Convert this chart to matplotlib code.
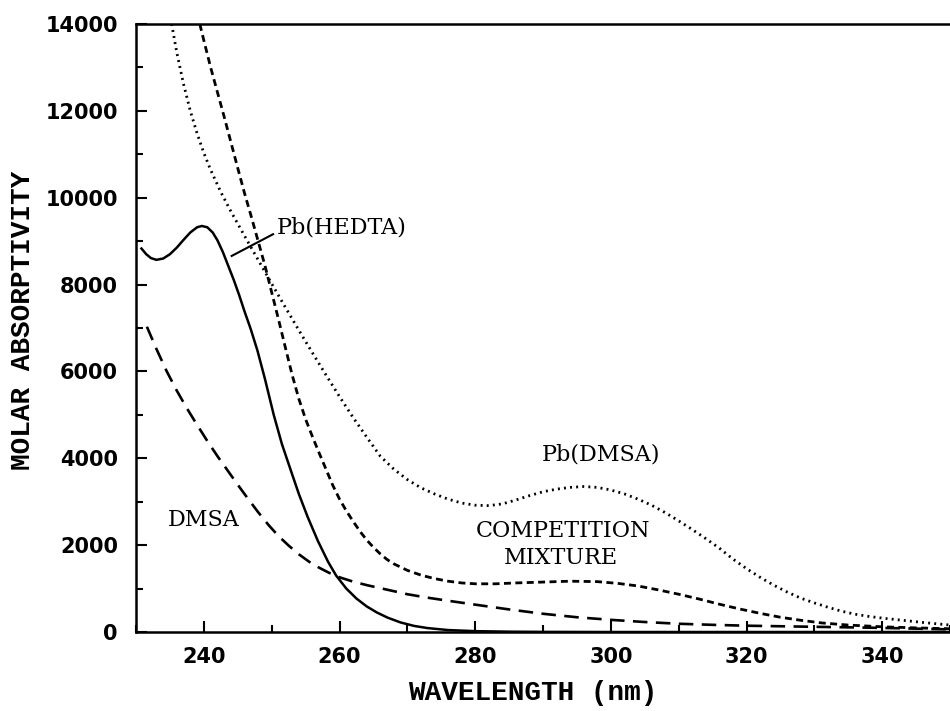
import matplotlib
matplotlib.use("Agg")
import matplotlib.pyplot as plt

# Pb(HEDTA) - solid
hedta_nm = [230.8, 231.5, 232.2, 233.0, 234.0, 235.0, 236.0, 237.0, 238.0, 239.0,
            239.7, 240.5, 241.3, 242.0, 242.8, 243.6, 244.4, 245.2, 246.0, 246.9,
            247.9, 249.0, 250.3, 251.5, 252.8, 254.0, 255.3, 256.8, 258.3, 259.5,
            261.0, 262.5, 264.0, 265.5, 267.1, 269.0, 271.0, 273.0, 276.0, 280.0,
            285.0, 290.0, 300.0, 350.0]
hedta_abs = [8830, 8700, 8610, 8570, 8600, 8700, 8850, 9030, 9200, 9320,
             9350, 9320, 9200, 9020, 8750, 8430, 8110, 7760, 7380, 6980,
             6480, 5830, 5000, 4330, 3730, 3180, 2650, 2100, 1620, 1300,
             1000, 770, 590, 450, 330, 220, 140, 90, 45, 20,
             8, 3, 0, 0]

# Pb(DMSA) - dotted
pbdmsa_nm = [235.25, 236, 237, 238, 239, 240, 241, 242.5, 244, 246,
             248, 250, 252, 254, 256, 258, 260, 262, 264, 266,
             268, 270, 272, 274, 276, 278, 280, 282, 284, 286,
             288, 290, 292, 294, 296, 298, 300, 302, 304, 306,
             308, 310, 312, 314, 316, 318, 320, 322, 324, 326,
             328, 330, 332, 334, 336, 338, 340, 343, 346, 350]
pbdmsa_abs = [14000, 13350, 12620, 12000, 11480, 11030, 10640, 10130, 9680, 9120,
              8570, 8020, 7480, 6950, 6430, 5920, 5420, 4940, 4490, 4050,
              3750, 3510, 3320, 3180, 3060, 2970, 2920, 2910, 2950, 3040,
              3140, 3230, 3290, 3330, 3350, 3330, 3270, 3180, 3060, 2920,
              2750, 2560, 2360, 2150, 1930, 1680, 1460, 1260, 1080, 920,
              780, 670, 570, 480, 410, 360, 320, 270, 220, 160]

# competition mixture - short dashes
mix_nm = [239.4, 240, 241, 242, 243, 244, 245, 246, 247, 248,
          249, 250, 251, 252, 253, 254, 255, 256, 257, 258,
          259, 260, 261, 262, 263, 264, 265, 266, 267, 268,
          270, 272, 274, 276, 278, 280, 283, 286, 290, 294,
          298, 301, 304, 307, 310, 313, 316, 319, 322, 325,
          328, 331, 335, 340, 345, 350]
mix_abs = [14000, 13620, 13000, 12430, 11860, 11270, 10680, 10100, 9560, 9000,
           8440, 7820, 7200, 6560, 5930, 5370, 4900, 4500, 4120, 3750,
           3380, 3060, 2790, 2550, 2320, 2120, 1950, 1800, 1670, 1570,
           1420, 1310, 1230, 1170, 1130, 1110, 1110, 1130, 1150, 1170,
           1160, 1120, 1060, 970, 870, 760, 640, 530, 430, 340,
           270, 210, 160, 120, 95, 75]

# DMSA - long dashes
dmsa_nm = [231.6, 233, 234.5, 236, 237.5, 239, 240.5, 242, 243.5, 245,
           246.5, 248, 249.5, 251, 252.5, 254, 255.5, 257, 258.5, 260,
           262, 264, 266, 268, 270, 273, 276, 280, 285, 290,
           295, 300, 305, 310, 315, 320, 330, 340, 350]
dmsa_abs = [7030, 6520, 6010, 5560, 5150, 4770, 4400, 4050, 3720, 3390,
            3070, 2760, 2470, 2210, 1990, 1790, 1620, 1480, 1360, 1260,
            1160, 1080, 1010, 940, 870, 790, 720, 630, 520, 420,
            340, 280, 230, 190, 165, 145, 120, 95, 60]

xticks = [240, 260, 280, 300, 320, 340]
yticks = [0, 2000, 4000, 6000, 8000, 10000, 12000, 14000]

serif = "DejaVu Serif"
mono = "Liberation Mono"

fig = plt.figure(figsize=(9.5, 7.11), dpi=100)
ax = fig.add_axes([0.1432, 0.1111, 0.8568, 0.8551])

ax.plot(hedta_nm, hedta_abs, color="black", lw=1.8, solid_joinstyle="round")
ax.plot(pbdmsa_nm, pbdmsa_abs, color="black", lw=2.0, linestyle=(0, (0.7, 1.5)))
ax.plot(mix_nm, mix_abs, color="black", lw=2.0, linestyle=(0, (2.5, 1.6)))
ax.plot(dmsa_nm, dmsa_abs, color="black", lw=1.9, linestyle=(0, (5.5, 3.2)))

ax.set_xlim(230, 350)
ax.set_ylim(0, 14000)
ax.set_xticks(xticks)
ax.set_xticks(range(230, 351, 10), minor=True)
ax.set_yticks(yticks)
ax.set_yticks(range(0, 14001, 1000), minor=True)
ax.tick_params(which="both", direction="in", width=1.5)
ax.tick_params(which="major", length=8)
ax.tick_params(which="minor", length=5)
ax.tick_params(axis="y", which="both", pad=13)
ax.tick_params(axis="x", which="both", pad=11)
for lab in ax.get_xticklabels() + ax.get_yticklabels():
    lab.set_fontsize(15)
    lab.set_fontweight("bold")
    lab.set_fontfamily("DejaVu Sans")

for side in ["left", "bottom", "top"]:
    ax.spines[side].set_linewidth(1.8)
ax.spines["right"].set_visible(False)

ax.set_xlabel("WAVELENGTH (nm)", fontsize=20, fontfamily=mono, fontweight="bold",
              va="center")
ax.xaxis.set_label_coords(0.4877, -0.1003)
ax.set_ylabel("MOLAR ABSORPTIVITY", fontsize=20, fontfamily=mono, fontweight="bold",
              va="center", ha="center")
ax.yaxis.set_label_coords(-0.1394, 0.513)

# annotations
ax.plot([244.1, 250.2], [8660, 9160], color="black", lw=1.5)
ax.text(250.7, 9320, "Pb(HEDTA)", fontsize=16, fontfamily=serif, ha="left", va="center")
ax.text(240.0, 2580, "DMSA", fontsize=16, fontfamily=serif, ha="center", va="center")
ax.text(298.5, 4080, "Pb(DMSA)", fontsize=16, fontfamily=serif, ha="center", va="center")
ax.text(292.9, 2330, "COMPETITION", fontsize=16, fontfamily=serif, ha="center", va="center")
ax.text(292.6, 1700, "MIXTURE", fontsize=16, fontfamily=serif, ha="center", va="center")

fig.savefig("out.png", dpi=100)
